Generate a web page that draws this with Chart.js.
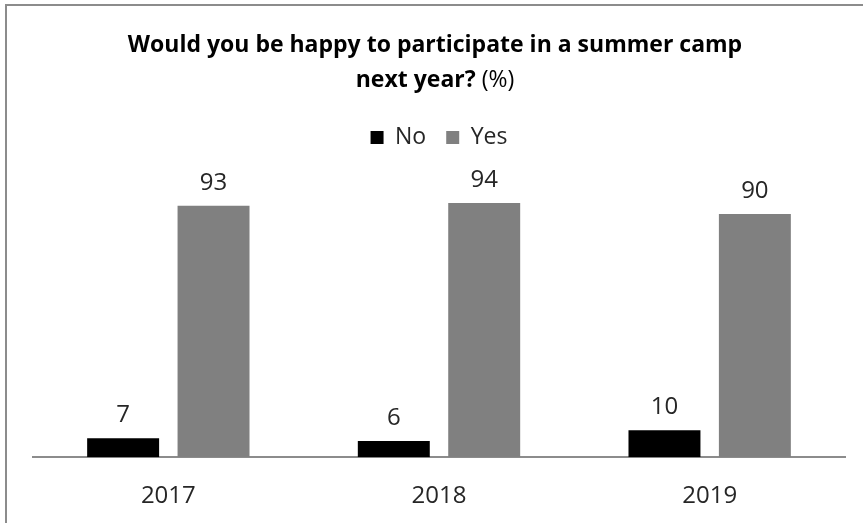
<!DOCTYPE html>
<html>
<head>
<meta charset="utf-8">
<script src="https://cdn.jsdelivr.net/npm/chart.js@4.4.0/dist/chart.umd.min.js"></script>
<style>
  body { margin: 0; background: #fff; overflow: hidden; }
  #box {
    position: absolute; left: 5px; top: 4px;
    width: 870px; height: 540px;
    border: 2px solid #8c8c8c; background: #fff;
  }
  #wrap { position: absolute; left: 0; top: 0; width: 856px; height: 522px; }
</style>
</head>
<body>
<div id="box"><div id="wrap"><canvas id="camp-chart"></canvas></div></div>
<script>
// Data ======================================
var years = ["2017", "2018", "2019"];
var no_values = [7, 6, 10];
var yes_values = [93, 94, 90];
var title_bold = ["Would you be happy to participate in a summer camp", "next year?"];
var title_plain = " (%)";

var fontName = "'Open Sans', sans-serif";

// title plugin (mixed bold / normal text) ======================
const campTitle = {
  id: "campTitle",
  afterDraw(chart) {
    const { ctx, width } = chart;
    ctx.save();
    ctx.fillStyle = "#000";
    ctx.textBaseline = "middle";
    ctx.textAlign = "left";
    // first line
    ctx.font = "bold 23px " + fontName;
    var w1 = ctx.measureText(title_bold[0]).width;
    ctx.fillText(title_bold[0], (width - w1) / 2, 39);
    // second line, bold part + plain part
    var wb = ctx.measureText(title_bold[1]).width;
    ctx.font = "23px " + fontName;
    var wp = ctx.measureText(title_plain).width;
    var x0 = (width - wb - wp) / 2;
    ctx.font = "bold 23px " + fontName;
    ctx.fillText(title_bold[1], x0, 74);
    ctx.font = "23px " + fontName;
    ctx.fillText(title_plain, x0 + wb, 74);
    ctx.restore();
  },
};

// value labels on top of bars ================================
const barValues = {
  id: "barValues",
  afterDatasetsDraw(chart) {
    const { ctx } = chart;
    ctx.save();
    ctx.font = "24px " + fontName;
    ctx.fillStyle = "#262626";
    ctx.textAlign = "center";
    ctx.textBaseline = "middle";
    chart.data.datasets.forEach(function (ds, i) {
      chart.getDatasetMeta(i).data.forEach(function (bar, j) {
        ctx.fillText(ds.data[j], bar.x, bar.y - 23);
      });
    });
    ctx.restore();
  },
};

const camp_data = {
  labels: years,
  datasets: [
    {
      label: "No",
      data: no_values,
      backgroundColor: "#000000",
      categoryPercentage: 0.668,
      barPercentage: 0.796,
    },
    {
      label: "Yes",
      data: yes_values,
      backgroundColor: "#808080",
      categoryPercentage: 0.668,
      barPercentage: 0.796,
    },
  ],
};

const campChart = {
  type: "bar",
  data: camp_data,
  options: {
    responsive: true,
    maintainAspectRatio: false,
    animation: false,
    layout: { padding: { top: 100, left: 26, right: 18, bottom: 0 } },
    plugins: {
      legend: {
        display: true,
        position: "top",
        labels: {
          boxWidth: 13,
          boxHeight: 13,
          padding: 20,
          color: "#262626",
          font: { family: fontName, size: 23 },
        },
      },
      tooltip: { enabled: false },
      title: { display: false },
    },
    scales: {
      x: {
        grid: { display: false },
        border: { display: true, color: "#8c8c8c", width: 2 },
        ticks: {
          color: "#262626",
          padding: 17,
          font: { family: fontName, size: 24 },
        },
      },
      y: {
        display: false,
        min: 0,
        max: 110.3,
      },
    },
  },
  plugins: [campTitle, barValues],
};

const myChart = new Chart(document.getElementById("camp-chart"), campChart);
</script>
</body>
</html>
